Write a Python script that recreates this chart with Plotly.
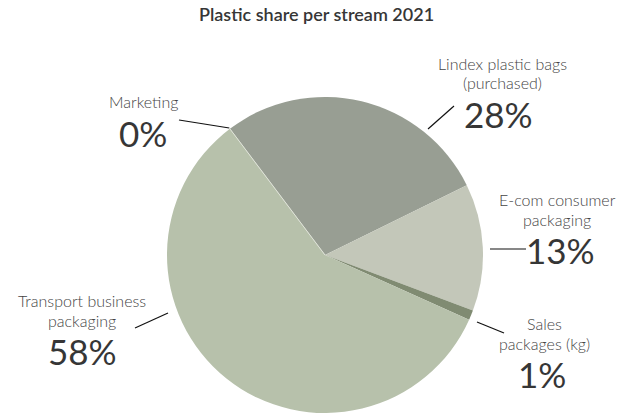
import math
import plotly.graph_objects as go

# Plastic share per stream, 2021 (percent of total)
streams = [
    "Marketing",
    "Lindex plastic bags (purchased)",
    "E-com consumer packaging",
    "Sales packages (kg)",
    "Transport business packaging",
]
label_lines = [
    ["Marketing"],
    ["Lindex plastic bags", "(purchased)"],
    ["E-com consumer", "packaging"],
    ["Sales", "packages (kg)"],
    ["Transport business", "packaging"],
]
shares = [0, 28, 13, 1, 58]
colors = ["#dfe3d8", "#989e93", "#c3c7b9", "#808b72", "#b7c1ab"]

W, H = 623, 415
FONT = "Lato"
TEXT_DARK = "#363636"
TEXT_LABEL = "#444444"
NAME_SIZE = 16
PCT_SIZE = 35
LINE_GAP = 19.5

# pie geometry in pixels
CX, CY, R = 325, 255, 158
ROTATION = 323  # start angle of first slice, clockwise from 12 o'clock


def px(x, y):
    return x / W, 1 - y / H


def slice_angle(idx, frac=0.0):
    """Angle (deg, clockwise from top) at a fraction through slice idx."""
    total = sum(shares)
    start = sum(shares[:idx]) / total * 360
    span = shares[idx] / total * 360
    return ROTATION + start + frac * span


def rim_point(angle_deg, radius):
    a = math.radians(angle_deg)
    return CX + radius * math.sin(a), CY - radius * math.cos(a)


fig = go.Figure(
    go.Pie(
        labels=streams,
        values=shares,
        sort=False,
        direction="clockwise",
        rotation=ROTATION,
        marker=dict(colors=colors, line=dict(width=0)),
        textinfo="none",
        hoverinfo="label+percent",
        showlegend=False,
        domain=dict(
            x=[(CX - R) / W, (CX + R) / W],
            y=[(H - CY - R) / H, (H - CY + R) / H],
        ),
    )
)

# label layout: name centre x, first name line y, percent centre x/y,
# connector outer end and inner end (inner None -> computed on the rim)
label_pos = {
    0: dict(x=143, y=101.5, pctx=143, pcty=132.5, outer=(179, 120), inner=None),
    1: dict(x=502, y=63, pctx=498, pcty=113.5, outer=(454, 106), inner=(428, 129)),
    2: dict(x=557, y=199.5, pctx=560, pcty=250, outer=(526, 249), inner=(490, 249)),
    3: dict(x=544, y=323.5, pctx=542, pcty=374, outer=(504, 333), inner=(477, 322)),
    4: dict(x=82, y=300.5, pctx=82, pcty=351, outer=(135, 328), inner=(168, 313)),
}

annotations = []
shapes = []

# a zero-valued slice still shows as a hairline on the pie
for i, v in enumerate(shares):
    if v == 0:
        ex, ey = rim_point(slice_angle(i), R)
        x0, y0 = px(CX, CY)
        x1, y1 = px(ex, ey)
        shapes.append(dict(type="line", xref="paper", yref="paper",
                           x0=x0, y0=y0, x1=x1, y1=y1,
                           line=dict(color=colors[i], width=1)))

for i, lines in enumerate(label_lines):
    p = label_pos[i]
    for k, t in enumerate(lines):
        x, y = px(p["x"], p["y"] + k * LINE_GAP)
        annotations.append(dict(
            x=x, y=y, xref="paper", yref="paper", text=t, showarrow=False,
            xanchor="center", yanchor="middle",
            font=dict(family=FONT, size=NAME_SIZE, color=TEXT_LABEL, weight=300),
        ))
    x, y = px(p["pctx"], p["pcty"])
    annotations.append(dict(
        x=x, y=y, xref="paper", yref="paper", text=f"{shares[i]}%",
        showarrow=False, xanchor="center", yanchor="middle",
        font=dict(family=FONT, size=PCT_SIZE, color=TEXT_DARK, weight=400),
    ))
    inner = p["inner"]
    if inner is None:
        inner = rim_point(slice_angle(i, 0.5), R + 1)
    x0, y0 = px(*p["outer"])
    x1, y1 = px(*inner)
    shapes.append(dict(type="line", xref="paper", yref="paper",
                       x0=x0, y0=y0, x1=x1, y1=y1,
                       line=dict(color="#111111", width=1.2)))

tx, ty = px(316, 14.5)
annotations.append(dict(
    x=tx, y=ty, xref="paper", yref="paper",
    text="Plastic share per stream 2021", showarrow=False,
    xanchor="center", yanchor="middle",
    font=dict(family=FONT, size=18, color=TEXT_DARK, weight=600),
))

fig.update_layout(
    width=W, height=H,
    margin=dict(l=0, r=0, t=0, b=0),
    paper_bgcolor="white",
    plot_bgcolor="white",
    annotations=annotations,
    shapes=shapes,
)

fig.write_html("out.html", config=dict(displayModeBar=False))
